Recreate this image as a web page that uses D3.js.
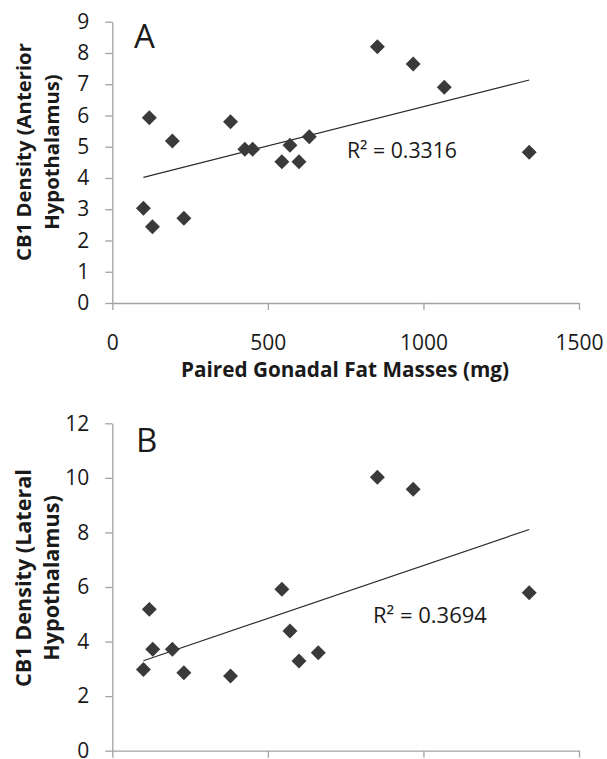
<!DOCTYPE html>
<html>
<head>
<meta charset="utf-8">
<script src="https://cdn.jsdelivr.net/npm/d3@7"></script>
<style>
  body { margin: 0; background: #fff; }
  text { font-family: "Open Sans", sans-serif; fill: #1a1a1a; }
</style>
</head>
<body>
<svg id="chart" width="607" height="759"></svg>
<script>
// fat masses (mg), panel A
var fatA = [119, 193, 100, 129, 230, 380, 426, 451, 545, 571, 600, 633, 852, 967, 1067, 1340];
// CB1 density, anterior hypothalamus
var cb1Anterior = [5.93, 5.18, 3.03, 2.44, 2.71, 5.80, 4.92, 4.92, 4.52, 5.05, 4.52, 5.32, 8.20, 7.65, 6.90, 4.82];
// fat masses (mg), panel B
var fatB = [100, 119, 130, 193, 230, 380, 545, 571, 600, 662, 852, 967, 1340];
// CB1 density, lateral hypothalamus
var cb1Lateral = [2.98, 5.18, 3.72, 3.72, 2.86, 2.74, 5.92, 4.39, 3.29, 3.59, 10.02, 9.58, 5.79];

var xTicks = [0, 500, 1000, 1500];
var yTicksA = [0, 1, 2, 3, 4, 5, 6, 7, 8, 9];
var yTicksB = [0, 2, 4, 6, 8, 10, 12];
var r2Labels = ["R\u00b2 = 0.3316", "R\u00b2 = 0.3694"];

var svg = d3.select("#chart");

// scale font so the text spans the wanted width
function fitText(sel, width) {
  var size = parseFloat(sel.style("font-size"));
  var len = sel.node().getComputedTextLength();
  sel.style("font-size", (size * width / len).toFixed(2) + "px");
  return sel.style("font-size");
}

function linreg(xs, ys) {
  var mx = d3.mean(xs), my = d3.mean(ys);
  var sxy = d3.sum(xs, function(x, i) { return (x - mx) * (ys[i] - my); });
  var sxx = d3.sum(xs, function(x) { return (x - mx) * (x - mx); });
  var b = sxy / sxx;
  return { slope: b, icept: my - b * mx };
}

function panel(opts) {
  var x = d3.scaleLinear().domain([0, 1500]).range([112.3, 579]);
  var y = d3.scaleLinear().domain([0, opts.ymax]).range([opts.y0, opts.ytop]);
  var g = svg.append("g");

  var xAxis = d3.axisBottom(x).tickValues(xTicks).tickSize(7).tickSizeOuter(0).tickPadding(25)
    .tickFormat(opts.xLabels ? d3.format("d") : "");
  var yAxis = d3.axisLeft(y).tickValues(opts.yTicks).tickSize(7).tickSizeOuter(0).tickPadding(16)
    .tickFormat(d3.format("d"));

  var gx = g.append("g").attr("transform", "translate(0," + opts.y0 + ")").call(xAxis);
  var gy = g.append("g").attr("transform", "translate(112.3,0)").call(yAxis);
  [gx, gy].forEach(function(a) {
    a.selectAll("path, line").attr("stroke", "#a3a3a3").attr("stroke-width", 1.3);
    a.selectAll("text").style("font-family", "'Open Sans', sans-serif")
      .style("font-size", "21px").attr("fill", "#151515");
  });

  // trend line over the data range
  var fit = linreg(opts.xs, opts.ys);
  var ext = d3.extent(opts.xs);
  g.append("line")
    .attr("x1", x(ext[0])).attr("y1", y(fit.icept + fit.slope * ext[0]))
    .attr("x2", x(ext[1])).attr("y2", y(fit.icept + fit.slope * ext[1]))
    .attr("stroke", "#2a2a2a").attr("stroke-width", 1.2);

  var diamond = d3.symbol().type(d3.symbolSquare).size(112);
  g.selectAll("path.pt")
    .data(opts.xs)
    .enter().append("path")
    .attr("class", "pt")
    .attr("d", diamond)
    .attr("transform", function(d, i) {
      return "translate(" + x(d) + "," + y(opts.ys[i]) + ") rotate(45)";
    })
    .attr("fill", "#3a3a3a");

  g.append("text")
    .attr("x", opts.letterX).attr("y", opts.letterY)
    .style("font-size", "33px")
    .text(opts.letter);

  var r2 = g.append("text")
    .attr("x", opts.r2x).attr("y", opts.r2y)
    .style("font-size", "19px")
    .text(opts.r2);
  fitText(r2, opts.r2w);

  // y title, two lines rotated
  var t1 = g.append("text")
    .attr("transform", "translate(31," + opts.ymid + ") rotate(-90)")
    .attr("text-anchor", "middle")
    .style("font-weight", "bold").style("font-size", "19px")
    .text(opts.ytitle[0]);
  var fs = fitText(t1, 218);
  g.append("text")
    .attr("transform", "translate(59," + opts.ymid + ") rotate(-90)")
    .attr("text-anchor", "middle")
    .style("font-weight", "bold").style("font-size", fs)
    .text(opts.ytitle[1]);

  if (opts.xtitle) {
    var xt = g.append("text")
      .attr("x", 345).attr("y", 377)
      .attr("text-anchor", "middle")
      .style("font-weight", "bold").style("font-size", "19px")
      .text(opts.xtitle);
    fitText(xt, 328);
  }
}

panel({
  xs: fatA, ys: cb1Anterior, ymax: 9, yTicks: yTicksA,
  y0: 303, ytop: 21.7, xLabels: true,
  letter: "A", letterX: 134, letterY: 48,
  r2: r2Labels[0], r2x: 347, r2y: 158, r2w: 110,
  ytitle: ["CB1 Density (Anterior", "Hypothalamus)"], ymid: 152,
  xtitle: "Paired Gonadal Fat Masses (mg)"
});

panel({
  xs: fatB, ys: cb1Lateral, ymax: 12, yTicks: yTicksB,
  y0: 750.7, ytop: 423.3, xLabels: false,
  letter: "B", letterX: 136, letterY: 452,
  r2: r2Labels[1], r2x: 373, r2y: 623, r2w: 114,
  ytitle: ["CB1 Density (Lateral", "Hypothalamus)"], ymid: 578
});
</script>
</body>
</html>
